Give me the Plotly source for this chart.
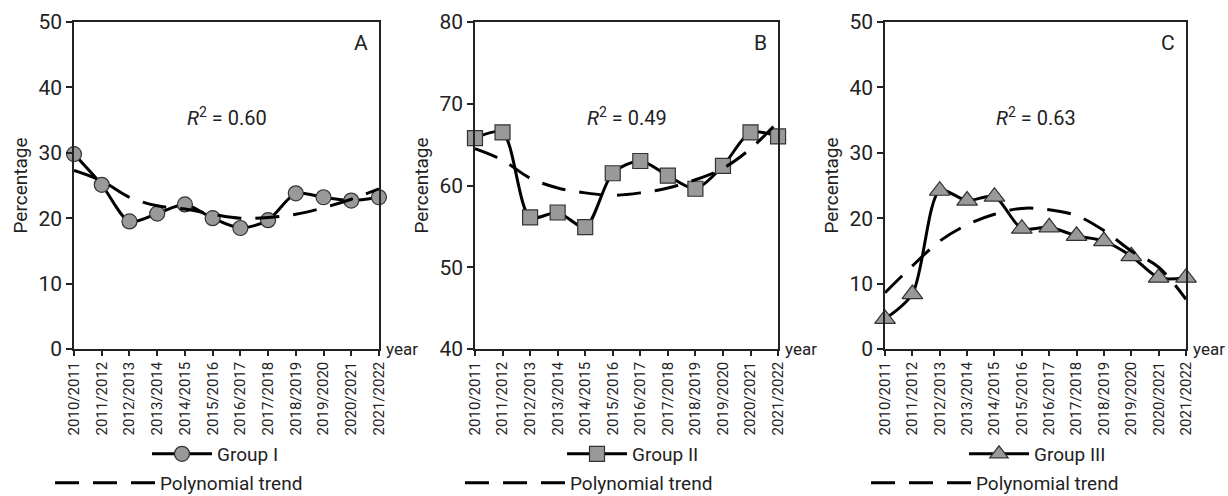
import plotly.graph_objects as go

years = ["2010/2011", "2011/2012", "2012/2013", "2013/2014", "2014/2015", "2015/2016",
         "2016/2017", "2017/2018", "2018/2019", "2019/2020", "2020/2021", "2021/2022"]

group1 = [29.8, 25.1, 19.5, 20.7, 22.1, 20.0, 18.5, 19.7, 23.8, 23.2, 22.7, 23.2]
trend1 = [27.3, 25.7, 23.2, 21.9, 21.4, 20.6, 20.0, 20.1, 20.6, 21.6, 22.9, 24.5]

group2 = [65.8, 66.5, 56.1, 56.7, 54.9, 61.5, 63.0, 61.2, 59.6, 62.4, 66.5, 66.0]
trend2 = [64.5, 63.1, 60.9, 59.7, 59.1, 58.8, 59.1, 59.7, 60.7, 62.1, 64.5, 67.8]

group3 = [4.6, 8.4, 24.2, 22.7, 23.3, 18.4, 18.6, 17.3, 16.5, 14.2, 10.9, 10.9]
trend3 = [8.6, 12.7, 16.5, 19.0, 20.6, 21.5, 21.3, 20.4, 18.1, 15.0, 12.5, 7.6]

panel_letters = ["A", "B", "C"]
r2_texts = ["0.60", "0.49", "0.63"]
group_names = ["Group I", "Group II", "Group III"]
trend_name = "Polynomial trend"
y_ranges = [[0, 50], [40, 80], [0, 50]]
symbols = ["circle", "square", "triangle-up"]
marker_sizes = [15, 15, 18]

FONT = "Roboto, Liberation Sans Narrow, sans-serif"
INK = "#222222"
MARKER_FILL = "#999999"
DASH = "24px,14px"

W, H = 1228, 496
x_domains = [[0.0603, 0.3086], [0.3868, 0.6336], [0.7207, 0.9658]]
y_domain = [0.2964, 0.9556]

# legend placement (left edge in px) for the group row and the trend row of each panel
group_leg_left = [147, 562, 964]
trend_leg_left = [50, 460, 866]
group_row_y = 454
trend_row_y = 483

idx = list(range(len(years)))
series = [(group1, trend1), (group2, trend2), (group3, trend3)]

fig = go.Figure()
for i, (g, t) in enumerate(series):
    xa = "x" if i == 0 else f"x{i+1}"
    ya = "y" if i == 0 else f"y{i+1}"
    lg_g = "legend" if i == 0 else f"legend{2*i+1}"
    lg_t = f"legend{2*i+2}"
    fig.add_trace(go.Scatter(
        x=idx, y=g, mode="lines+markers", name=group_names[i],
        line=dict(color="black", width=3, shape="spline", smoothing=0.8),
        marker=dict(symbol=symbols[i], size=marker_sizes[i], color=MARKER_FILL,
                    line=dict(color="#333333", width=1.2)),
        xaxis=xa, yaxis=ya, legend=lg_g, cliponaxis=False,
    ))
    fig.add_trace(go.Scatter(
        x=idx, y=t, mode="lines", name=trend_name,
        line=dict(color="black", width=3, dash=DASH, shape="spline", smoothing=1.0),
        xaxis=xa, yaxis=ya, legend=lg_t, cliponaxis=False,
    ))

layout = dict(
    width=W, height=H,
    margin=dict(l=0, r=0, t=0, b=0, autoexpand=False),
    paper_bgcolor="white", plot_bgcolor="white",
    font=dict(family=FONT, color=INK, size=18),
    showlegend=True,
)

annotations = []
for i in range(3):
    sfx = "" if i == 0 else str(i + 1)
    layout[f"xaxis{sfx}"] = dict(
        domain=x_domains[i], anchor=f"y{sfx}", range=[0, 11], automargin=False,
        tickmode="array", tickvals=idx, ticktext=years, tickangle=-90,
        ticks="outside", ticklen=5, tickwidth=1.5, tickcolor=INK,
        showline=True, linecolor=INK, linewidth=1.5, mirror=True,
        showgrid=False, zeroline=False,
        tickfont=dict(size=15, family=FONT, color=INK),
    )
    layout[f"yaxis{sfx}"] = dict(
        domain=y_domain, anchor=f"x{sfx}", range=y_ranges[i], dtick=10, automargin=False,
        ticks="outside", ticklen=6, tickwidth=1.5, tickcolor=INK,
        showline=True, linecolor=INK, linewidth=1.5, mirror=True,
        showgrid=False, zeroline=False,
        tickfont=dict(size=21, family=FONT, color=INK),
        title=dict(text="Percentage", font=dict(size=19, family=FONT, color=INK), standoff=6),
    )
    lg_g = "legend" if i == 0 else f"legend{2*i+1}"
    lg_t = f"legend{2*i+2}"
    layout[lg_g] = dict(
        x=group_leg_left[i] / W, xanchor="left", y=1 - group_row_y / H, yanchor="middle",
        orientation="v", bgcolor="rgba(0,0,0,0)",
        font=dict(size=19, family=FONT, color=INK), itemwidth=60,
    )
    layout[lg_t] = dict(
        x=trend_leg_left[i] / W, xanchor="left", y=1 - trend_row_y / H, yanchor="middle",
        orientation="v", bgcolor="rgba(0,0,0,0)",
        font=dict(size=19, family=FONT, color=INK), itemwidth=100,
    )
    annotations.append(dict(
        text=panel_letters[i], xref=f"x{sfx} domain", yref=f"y{sfx} domain",
        x=0.97, y=0.935, xanchor="right", yanchor="middle", showarrow=False,
        font=dict(size=21, family=FONT, color=INK),
    ))
    annotations.append(dict(
        text=f"<i>R</i><sup>2</sup> = {r2_texts[i]}", xref=f"x{sfx} domain", yref=f"y{sfx} domain",
        x=0.5, y=0.71, xanchor="center", yanchor="middle", showarrow=False,
        font=dict(size=20, family=FONT, color=INK),
    ))
    annotations.append(dict(
        text="year", xref=f"x{sfx} domain", yref=f"y{sfx} domain",
        x=1.015, y=0.0, xanchor="left", yanchor="middle", showarrow=False,
        font=dict(size=17, family=FONT, color=INK),
    ))

layout["annotations"] = annotations
fig.update_layout(**layout)
fig.write_html("out.html")
